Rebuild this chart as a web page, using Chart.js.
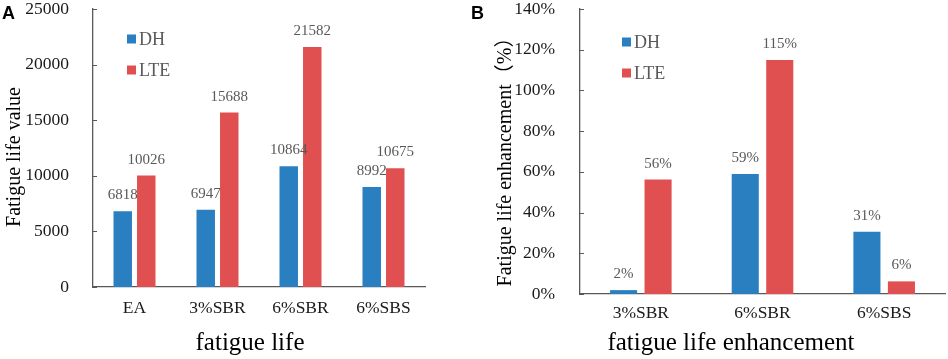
<!DOCTYPE html>
<html>
<head>
<meta charset="utf-8">
<script src="https://cdn.jsdelivr.net/npm/chart.js@4"></script>
<style>
  html, body { margin: 0; padding: 0; background: #fff; }
  #wrap { position: relative; width: 948px; height: 359px; overflow: hidden; }
  canvas { position: absolute; top: 0; }
  .tag { position: absolute; font: bold 18px 'Liberation Sans', Arial, sans-serif; line-height: 1; color: #000; }
</style>
</head>
<body>
<div id="wrap">
  <canvas id="chartA" width="470" height="359" style="left:0"></canvas>
  <canvas id="chartB" width="478" height="359" style="left:470px"></canvas>
  <div class="tag" style="left:2px;top:4px">A</div>
  <div class="tag" style="left:471px;top:4px">B</div>
</div>
<script>
// panel A: fatigue life
const catsA = ['EA', '3%SBR', '6%SBR', '6%SBS'];
const dhLife = [6818, 6947, 10864, 8992];
const lteLife = [10026, 15688, 21582, 10675];

// panel B: fatigue life enhancement (%)
const catsB = ['3%SBR', '6%SBR', '6%SBS'];
const dhGain = [1.9, 58.9, 30.6];
const lteGain = [56.2, 115.0, 6.2];

const BLUE = '#2a7fc0';
const RED = '#e05050';
const AXIS = '#595959';
const SERIF = '"Liberation Serif", "Times New Roman", "Noto Sans CJK SC", serif';

// draws inward ticks, value labels, legend and axis titles
function makeExtras(cfg) {
  return {
    id: 'extras',
    afterDatasetsDraw(chart) {
      const ctx = chart.ctx;
      const area = chart.chartArea;
      const y = chart.scales.y;
      ctx.save();

      ctx.strokeStyle = AXIS;
      ctx.lineWidth = 1;
      y.ticks.forEach((t, i) => {
        const py = Math.round(y.getPixelForTick(i)) + 0.5;
        ctx.beginPath();
        ctx.moveTo(area.left, py);
        ctx.lineTo(area.left + 4, py);
        ctx.stroke();
      });

      ctx.font = '15px ' + SERIF;
      ctx.fillStyle = AXIS;
      ctx.textAlign = 'center';
      ctx.textBaseline = 'alphabetic';
      chart.data.datasets.forEach((ds, di) => {
        chart.getDatasetMeta(di).data.forEach((bar, i) => {
          ctx.fillText(Math.round(ds.data[i]) + cfg.suffix, bar.x, bar.y - 12);
        });
      });

      ctx.font = '18px ' + SERIF;
      ctx.textAlign = 'left';
      ctx.textBaseline = 'middle';
      chart.data.datasets.forEach((ds, di) => {
        const ly = cfg.legendY + di * 31;
        ctx.fillStyle = ds.backgroundColor;
        ctx.fillRect(cfg.legendX, ly - 4.5, 9, 9);
        ctx.fillStyle = AXIS;
        ctx.fillText(ds.label, cfg.legendX + 12, ly + 1);
      });

      ctx.fillStyle = '#000';
      ctx.textAlign = 'center';
      ctx.font = '25px ' + SERIF;
      ctx.fillText(cfg.xTitle, cfg.xTitleX, 343);

      ctx.font = '20px ' + SERIF;
      ctx.translate(cfg.yTitleX, 157);
      ctx.rotate(-Math.PI / 2);
      ctx.fillText(cfg.yTitle, 0, 0);
      ctx.restore();
    }
  };
}

function barChart(id, labels, dh, lte, yOpts, fit, extras) {
  return new Chart(document.getElementById(id), {
    type: 'bar',
    data: {
      labels: labels,
      datasets: [
        { label: 'DH', data: dh, backgroundColor: BLUE },
        { label: 'LTE', data: lte, backgroundColor: RED }
      ]
    },
    options: {
      responsive: false,
      animation: false,
      layout: { padding: { top: 9, right: fit.right, left: 0, bottom: 0 } },
      plugins: { legend: { display: false }, tooltip: { enabled: false } },
      datasets: { bar: { categoryPercentage: 0.567, barPercentage: 0.785 } },
      scales: {
        x: {
          grid: { display: false },
          border: { color: AXIS, width: 1.3 },
          ticks: { color: '#1a1a1a', font: { family: SERIF, size: 17.5 }, padding: fit.xPad },
          afterFit: s => { s.height = fit.xHeight; }
        },
        y: Object.assign({
          grid: { display: false },
          border: { color: AXIS, width: 1.3 },
          afterFit: s => {
            s.width = fit.yWidth;
            s.paddingTop = 0;
            s.paddingBottom = 0;
          }
        }, yOpts)
      }
    },
    plugins: [makeExtras(extras)]
  });
}

barChart('chartA', catsA, dhLife, lteLife, {
  min: 0, max: 25000,
  ticks: { stepSize: 5000, callback: v => String(v), color: '#1a1a1a', font: { family: SERIF, size: 17.5, lineHeight: 1 }, padding: 16 }
}, { right: 45, xHeight: 72, yWidth: 93, xPad: 3 }, {
  suffix: '', legendX: 127, legendY: 39,
  xTitle: 'fatigue life', xTitleX: 250,
  yTitle: 'Fatigue life value', yTitleX: 15
});

barChart('chartB', catsB, dhGain, lteGain, {
  min: 0, max: 140,
  ticks: { stepSize: 20, callback: v => v + '%', color: '#1a1a1a', font: { family: SERIF, size: 17.5, lineHeight: 1 }, padding: 17 }
}, { right: 3, xHeight: 65, yWidth: 110, xPad: 1 }, {
  suffix: '%', legendX: 152, legendY: 42,
  xTitle: 'fatigue life enhancement', xTitleX: 261,
  yTitle: 'Fatigue life enhancement（%）', yTitleX: 36
});
</script>
</body>
</html>
